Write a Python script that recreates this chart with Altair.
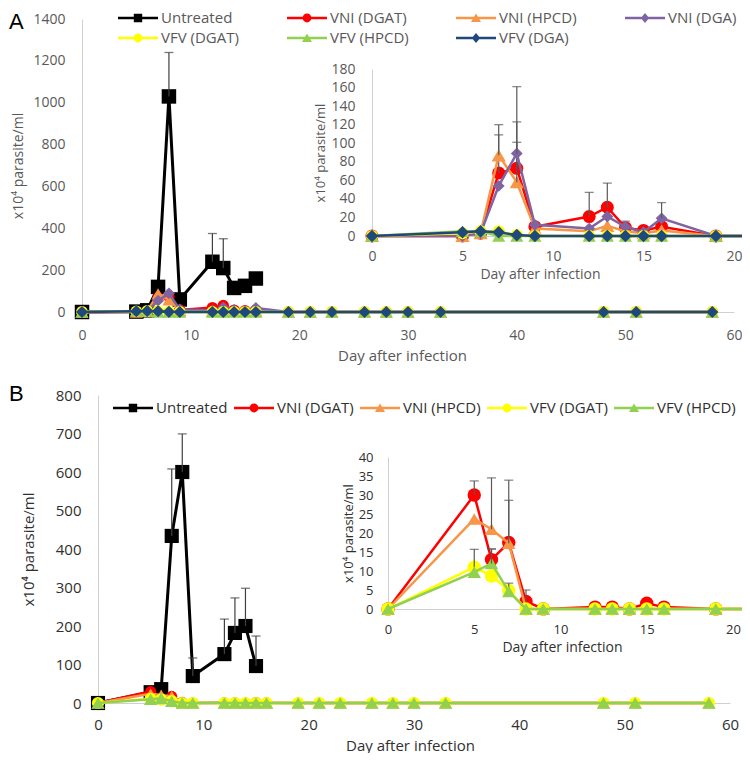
import altair as alt
import pandas as pd

FONT = "Open Sans"
W, H = 734, 745
EC = "#595959"

# ---------------- Panel A data ----------------
A_SERIES = ["Untreated", "VNI (DGAT)", "VNI (HPCD)", "VNI (DGA)", "VFV (DGAT)", "VFV (HPCD)", "VFV (DGA)"]
A_COLORS = ["#000000", "#FF0000", "#F79646", "#8064A2", "#FFFF00", "#92D050", "#1F497D"]
A_SHAPES = ["square", "circle", "triangle-up", "diamond", "circle", "triangle-up", "diamond"]

A_UNTREATED_DAYS = [0, 5, 6, 7, 8, 9, 12, 13, 14, 15, 16]
A_UNTREATED = [0, 2, 8, 120, 1030, 60, 240, 210, 115, 125, 160]
A_UNTREATED_ERR = [0, 0, 0, 0, 210, 0, 135, 140, 0, 0, 0]

TREATED_DAYS = [0, 5, 6, 7, 8, 9, 12, 13, 14, 15, 16, 19, 21, 23, 26, 28, 30, 33, 48, 51, 58]
A_VNI_DGAT = [0, 0, 3, 68, 73, 10, 21, 31, 9, 6, 10, 0, 0, 0, 0, 0, 0, 0, 0, 0, 0]
A_VNI_HPCD = [0, 0, 3, 87, 58, 8, 5, 11, 5, 3, 6, 0, 0, 0, 0, 0, 0, 0, 0, 0, 0]
A_VNI_DGA = [0, 0, 3, 54, 89, 12, 8, 21, 10, 4, 19, 0, 0, 0, 0, 0, 0, 0, 0, 0, 0]
A_VFV_DGAT = [0, 3, 5, 5, 1, 0, 0, 0, 0, 0, 0, 0, 0, 0, 0, 0, 0, 0, 0, 0, 0]
A_VFV_HPCD = [0, 5, 5, 0, 0, 0, 0, 0, 0, 0, 0, 0, 0, 0, 0, 0, 0, 0, 0, 0, 0]
A_VFV_DGA = [0, 4, 5, 4, 1, 0, 0, 0, 0, 0, 0, 0, 0, 0, 0, 0, 0, 0, 0, 0, 0]
A_VNI_DGAT_ERR = [0, 0, 0, 41, 50, 0, 26, 26, 7, 0, 0, 0, 0, 0, 0, 0, 0, 0, 0, 0, 0]
A_VNI_HPCD_ERR = [0, 0, 0, 33, 43, 0, 0, 0, 0, 0, 0, 0, 0, 0, 0, 0, 0, 0, 0, 0, 0]
A_VNI_DGA_ERR = [0, 0, 0, 0, 72, 0, 0, 0, 0, 0, 17, 0, 0, 0, 0, 0, 0, 0, 0, 0, 0]
ZERO_ERR = [0] * 21

# ---------------- Panel B data ----------------
B_SERIES = ["Untreated", "VNI (DGAT)", "VNI (HPCD)", "VFV (DGAT)", "VFV (HPCD)"]
B_COLORS = ["#000000", "#FF0000", "#F79646", "#FFFF00", "#92D050"]
B_SHAPES = ["square", "circle", "triangle-up", "circle", "triangle-up"]

B_UNTREATED_DAYS = [0, 5, 6, 7, 8, 9, 12, 13, 14, 15]
B_UNTREATED = [0, 28, 36, 434, 600, 70, 127, 182, 200, 96]
B_UNTREATED_ERR = [0, 0, 0, 174, 99, 47, 91, 91, 98, 78]
B_VNI_DGAT = [0, 30, 13, 17.5, 2, 0, 0.5, 0.5, 0, 1.5, 0.5, 0, 0, 0, 0, 0, 0, 0, 0, 0, 0]
B_VNI_HPCD = [0, 23.7, 21, 17.3, 0, 0, 0, 0, 0, 0, 0, 0, 0, 0, 0, 0, 0, 0, 0, 0, 0]
B_VFV_DGAT = [0, 11, 8.7, 4.9, 0, 0, 0, 0, 0, 0, 0, 0, 0, 0, 0, 0, 0, 0, 0, 0, 0]
B_VFV_HPCD = [0, 9.7, 12, 4.6, 0, 0, 0, 0, 0, 0, 0, 0, 0, 0, 0, 0, 0, 0, 0, 0, 0]
B_VNI_DGAT_ERR = [0, 3.7, 2.8, 16.4, 3, 0, 0, 0, 0, 0, 0, 0, 0, 0, 0, 0, 0, 0, 0, 0, 0]
B_VNI_HPCD_ERR = [0, 0, 13.5, 11.3, 0, 0, 0, 0, 0, 0, 0, 0, 0, 0, 0, 0, 0, 0, 0, 0, 0]
B_VFV_DGAT_ERR = [0, 4.7, 0, 1.9, 0, 0, 0, 0, 0, 0, 0, 0, 0, 0, 0, 0, 0, 0, 0, 0, 0]
B_VFV_HPCD_ERR = [0, 0, 3.8, 0, 0, 0, 0, 0, 0, 0, 0, 0, 0, 0, 0, 0, 0, 0, 0, 0, 0]

PANEL_LABELS = ["A", "B"]
Y_TITLE = "x10⁴ parasite/ml"
X_TITLE = "Day after infection"

# legend symbols: line segment + marker, in unit coordinates (shifted right by one unit)
LINE = "M-1,-0.12H3V0.12H-1Z"
MARK_PATH = {
    "square": "M0.58,-0.42H1.42V0.42H0.58Z",
    "circle": "M1.44,0A0.44,0.44 0 1,1 0.56,0A0.44,0.44 0 1,1 1.44,0Z",
    "triangle-up": "M1,-0.44L1.5,0.4L0.5,0.4Z",
    "diamond": "M1,-0.5L1.42,0L1,0.5L0.58,0Z",
}


def build(series, days_list, vals_list, errs_list):
    rows = []
    for s, ds, vs, es in zip(series, days_list, vals_list, errs_list):
        for d, v, e in zip(ds, vs, es):
            rows.append({"series": s, "day": d, "value": v, "top": v + e, "err": e})
    return pd.DataFrame(rows)


dfA = build(
    A_SERIES,
    [A_UNTREATED_DAYS] + [TREATED_DAYS] * 6,
    [A_UNTREATED, A_VNI_DGAT, A_VNI_HPCD, A_VNI_DGA, A_VFV_DGAT, A_VFV_HPCD, A_VFV_DGA],
    [A_UNTREATED_ERR, A_VNI_DGAT_ERR, A_VNI_HPCD_ERR, A_VNI_DGA_ERR, ZERO_ERR, ZERO_ERR, ZERO_ERR],
)
dfB = build(
    B_SERIES,
    [B_UNTREATED_DAYS] + [TREATED_DAYS] * 4,
    [B_UNTREATED, B_VNI_DGAT, B_VNI_HPCD, B_VFV_DGAT, B_VFV_HPCD],
    [B_UNTREATED_ERR, B_VNI_DGAT_ERR, B_VNI_HPCD_ERR, B_VFV_DGAT_ERR, B_VFV_HPCD_ERR],
)


def axis(orient, offset, values, lsize, lcolor, lpad, tsize, title, tx, ty=None):
    kw = dict(orient=orient, offset=offset, values=values, grid=False, ticks=False, tickSize=0,
              domain=True, domainColor="#D0D0D0", domainWidth=1, format="d",
              labelFont=FONT, labelFontSize=lsize, labelColor=lcolor, labelPadding=lpad,
              labelFlush=False, labelOverlap=False,
              title=title, titleFont=FONT, titleFontSize=tsize, titleColor=lcolor,
              titleFontWeight="normal", titleX=tx, titleBaseline="middle", titleAlign="center",
              titleAngle=0 if orient == "bottom" else 270, titlePadding=0)
    if ty is not None:
        kw["titleY"] = ty
    return alt.Axis(**kw)


def panel(df, series, colors, shapes, sizes, xs, ys, xa, ya, with_err, clip, lws, maxday=None):
    layers = []
    for s, c, sh, sz, lw in zip(series, colors, shapes, sizes, lws):
        base = alt.Chart(df).transform_filter(alt.datum.series == s)
        if maxday is not None:
            base = base.transform_filter(alt.datum.day <= maxday)
        X = alt.X("day:Q", scale=xs, axis=xa)
        Y = alt.Y("value:Q", scale=ys, axis=ya)
        layers.append(base.mark_line(color=c, strokeWidth=lw, clip=clip).encode(x=X, y=Y))
        layers.append(base.mark_point(shape=sh, size=sz, filled=True, color=c, opacity=1,
                                      clip=clip).encode(x=X, y=Y))
        if with_err:
            eb = base.transform_filter(alt.datum.err > 0)
            layers.append(eb.mark_rule(color=EC, strokeWidth=1.2, clip=clip).encode(
                x=X, y=Y, y2=alt.Y2("top:Q")))
            layers.append(eb.mark_tick(color=EC, orient="horizontal", size=9, thickness=1.3,
                                       clip=clip).encode(
                x=X, y=alt.Y("top:Q", scale=ys, axis=ya)))
    return alt.layer(*layers)


def untreated_err(df, xs, ys, xa, ya):
    eb = alt.Chart(df).transform_filter(alt.datum.series == "Untreated").transform_filter(
        alt.datum.err > 0)
    X = alt.X("day:Q", scale=xs, axis=xa)
    return [
        eb.mark_rule(color="#404040", strokeWidth=1.2).encode(
            x=X, y=alt.Y("value:Q", scale=ys, axis=ya), y2=alt.Y2("top:Q")),
        eb.mark_tick(color="#404040", orient="horizontal", size=9, thickness=1.3).encode(
            x=X, y=alt.Y("top:Q", scale=ys, axis=ya)),
    ]


GA = "#595959"
GB = "#303030"

# ---- Panel A main ----
xsA = alt.Scale(domain=[0, 60], range=[74, 726], nice=False, zero=False)
ysA = alt.Scale(domain=[0, 1400], range=[304, 11], nice=False)
xaA = axis("bottom", 304 - H, list(range(0, 61, 10)), 14, GA, 16, 15, X_TITLE, 394, 43)
yaA = axis("left", -74, list(range(0, 1401, 200)), 14, GA, 17, 14, Y_TITLE, -64)
A_main = alt.layer(
    panel(dfA, A_SERIES, A_COLORS, A_SHAPES, [210, 130, 170, 140, 140, 170, 150],
          xsA, ysA, xaA, yaA, False, False, [3, 2.5, 2.5, 2.5, 2.5, 2.5, 2.5]),
    *untreated_err(dfA, xsA, ysA, xaA, yaA),
)

# ---- Panel A inset ----
xsAi = alt.Scale(domain=[0, 20], range=[364, 726], nice=False, zero=False)
ysAi = alt.Scale(domain=[0, 180], range=[228, 61], nice=False)
xaAi = axis("bottom", 228 - H, [0, 5, 10, 15, 20], 14, GA, 13, 14, X_TITLE, 532, 38)
yaAi = axis("left", -364, list(range(0, 181, 20)), 14, GA, 17, 13, Y_TITLE, -52)
A_inset = panel(dfA, A_SERIES[1:], A_COLORS[1:], A_SHAPES[1:], [170, 200, 140, 150, 170, 160],
                xsAi, ysAi, xaAi, yaAi, True, True, [2.5] * 6, maxday=21)

# ---- Panel B main ----
xsB = alt.Scale(domain=[0, 60], range=[90, 722], nice=False, zero=False)
ysB = alt.Scale(domain=[0, 800], range=[695, 387], nice=False)
xaB = axis("bottom", 695 - H, list(range(0, 61, 10)), 15, GB, 14, 15, X_TITLE, 402, 42)
yaB = axis("left", -90, list(range(0, 801, 100)), 15, GB, 17, 15, Y_TITLE, -70)
B_main = alt.layer(
    panel(dfB, B_SERIES, B_COLORS, B_SHAPES, [200, 120, 160, 150, 180],
          xsB, ysB, xaB, yaB, False, False, [3, 2.5, 2.5, 2.5, 2.5]),
    *untreated_err(dfB, xsB, ysB, xaB, yaB),
)

# ---- Panel B inset ----
xsBi = alt.Scale(domain=[0, 20], range=[380, 725], nice=False, zero=False)
ysBi = alt.Scale(domain=[0, 40], range=[601, 449], nice=False)
xaBi = axis("bottom", 601 - H, [0, 5, 10, 15, 20], 13, GB, 14, 14, X_TITLE, 554, 38)
yaBi = axis("left", -380, list(range(0, 41, 5)), 13, GB, 15, 13, Y_TITLE, -40)
B_inset = panel(dfB, B_SERIES[1:], B_COLORS[1:], B_SHAPES[1:], [180, 180, 180, 180],
                xsBi, ysBi, xaBi, yaBi, True, True, [2.5] * 4, maxday=21)


# ---- Legends ----
def legend_layer(series, colors, shapes, lx, ly, cols, lcolor, cpad, rpad, galign):
    paths = [LINE + MARK_PATH[s] for s in shapes]
    leg = alt.Legend(orient="none", legendX=lx, legendY=ly, direction="horizontal", columns=cols,
                     title=None, symbolSize=400, symbolStrokeWidth=0, symbolOpacity=1,
                     labelFont=FONT, labelFontSize=15, labelColor=lcolor, labelOffset=23,
                     columnPadding=cpad, rowPadding=rpad, gridAlign=galign, padding=0,
                     labelLimit=300)
    return alt.Chart(pd.DataFrame({"series": series})).mark_point(filled=True, opacity=0).encode(
        fill=alt.Fill("series:N", scale=alt.Scale(domain=series, range=colors), legend=leg),
        shape=alt.Shape("series:N", scale=alt.Scale(domain=series, range=paths), legend=leg),
    )


legA = legend_layer(A_SERIES, A_COLORS, A_SHAPES, 110, 0, 4, GA, 47, 2, "all")
legB = legend_layer(B_SERIES, B_COLORS, B_SHAPES, 105, 390, 5, GB, 6, 0, "none")

# ---- Panel letters ----
labA = alt.Chart(pd.DataFrame({"t": [PANEL_LABELS[0]]})).mark_text(
    font="Liberation Sans", fontSize=22, align="left", baseline="middle", color="#000000").encode(
    x=alt.value(1), y=alt.value(14), text="t:N")
labB = alt.Chart(pd.DataFrame({"t": [PANEL_LABELS[1]]})).mark_text(
    font="Liberation Sans", fontSize=22, align="left", baseline="middle", color="#000000").encode(
    x=alt.value(1), y=alt.value(386), text="t:N")

chart = alt.layer(A_main, A_inset, B_main, B_inset, legA, legB, labA, labB).resolve_scale(
    x="independent", y="independent", fill="independent", shape="independent"
).resolve_axis(x="independent", y="independent").resolve_legend(
    fill="independent", shape="independent"
).properties(
    width=W, height=H, padding=0, autosize=alt.AutoSizeParams(type="none")
).configure_view(stroke=None)

chart.save("out.html", embed_options={"renderer": "svg", "actions": False})
